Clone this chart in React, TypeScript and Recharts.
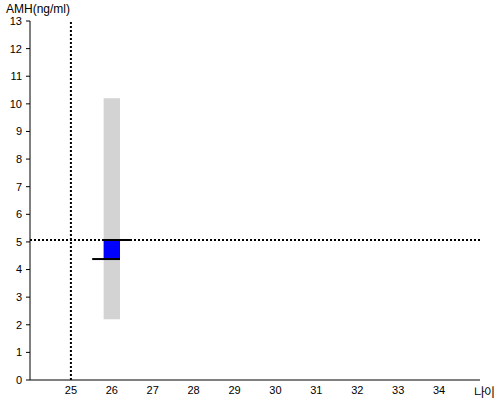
import { ComposedChart, XAxis, YAxis, ReferenceArea, ReferenceLine, Scatter } from 'recharts'

const ageTicks = [25, 26, 27, 28, 29, 30, 31, 32, 33, 34]
const amhTicks = [0, 1, 2, 3, 4, 5, 6, 7, 8, 9, 10, 11, 12, 13]

// normal range band for age 26
const bandAge = [25.8, 26.2]
const bandAmh = [2.2, 10.2]

// measured box
const boxAge = [25.8, 26.2]
const boxAmh = [4.38, 5.07]

// marker segments
const upperMark = { age: [25.77, 26.47], amh: 5.07 }
const lowerMark = { age: [25.52, 26.2], amh: 4.38 }

// guide lines
const guideAge = 25
const guideAmh = 5.07

const points = [
  { x: boxAge[0], y: boxAmh[0] },
  { x: boxAge[1], y: boxAmh[1] },
]

const font = '"Liberation Sans", Arial, sans-serif'

export default function App() {
  return (
    <div style={{ position: 'absolute', left: 0, top: 0, width: 500, height: 400, background: '#fff', fontFamily: font }}>
      <ComposedChart width={500} height={400} data={points} margin={{ top: 21, right: 20, bottom: 0, left: 0 }}>
        <XAxis
          type="number"
          dataKey="x"
          domain={[24, 35]}
          ticks={ageTicks}
          tickLine={false}
          axisLine={{ stroke: '#000' }}
          height={20}
          tick={{ fill: '#000', fontSize: 11, fontFamily: font }}
          tickMargin={0}
          interval={0}
        />
        <YAxis
          type="number"
          dataKey="y"
          domain={[0, 13]}
          ticks={amhTicks}
          width={30}
          tickSize={4}
          tickMargin={4}
          axisLine={{ stroke: '#000' }}
          tickLine={{ stroke: '#000' }}
          tick={{ fill: '#000', fontSize: 11, fontFamily: font }}
          interval={0}
        />
        <ReferenceArea x1={bandAge[0]} x2={bandAge[1]} y1={bandAmh[0]} y2={bandAmh[1]} fill="#d3d3d3" fillOpacity={1} stroke="none" />
        <ReferenceArea x1={boxAge[0]} x2={boxAge[1]} y1={boxAmh[0]} y2={boxAmh[1]} fill="#0000ff" fillOpacity={1} stroke="none" />
        <ReferenceLine y={guideAmh} stroke="#000" strokeWidth={2} strokeDasharray="2 2" />
        <ReferenceLine x={guideAge} stroke="#000" strokeWidth={2} strokeDasharray="2 2" />
        <ReferenceLine
          segment={[{ x: upperMark.age[0], y: upperMark.amh }, { x: upperMark.age[1], y: upperMark.amh }]}
          stroke="#000"
          strokeWidth={2}
        />
        <ReferenceLine
          segment={[{ x: lowerMark.age[0], y: lowerMark.amh }, { x: lowerMark.age[1], y: lowerMark.amh }]}
          stroke="#000"
          strokeWidth={2}
        />
        <Scatter data={points} fill="none" shape={() => null} isAnimationActive={false} />
      </ComposedChart>
      <div style={{ position: 'absolute', left: 6, top: 2, fontSize: 12, color: '#000' }}>AMH(ng/ml)</div>
      <div
        style={{
          position: 'absolute',
          left: 474,
          top: 386,
          fontSize: 12,
          lineHeight: '12px',
          letterSpacing: -1,
          whiteSpace: 'nowrap',
          color: '#000',
          fontFamily: '"Noto Sans CJK KR", sans-serif',
        }}
      >
        나이
      </div>
    </div>
  )
}
